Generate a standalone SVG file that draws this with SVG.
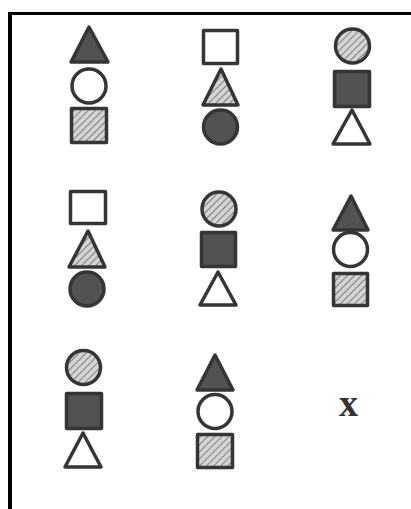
<svg xmlns="http://www.w3.org/2000/svg" width="411" height="509" viewBox="0 0 411 509">
<defs>
<pattern id="hatch" width="5" height="5" patternUnits="userSpaceOnUse" patternTransform="rotate(45)">
<rect width="5" height="5" fill="#d4d4d4"/>
<line x1="0" y1="0" x2="0" y2="5" stroke="#7f7f7f" stroke-width="2"/>
</pattern>
</defs>
<style>
.s{stroke:#353535;stroke-width:3.5;stroke-linejoin:round}
.dark{fill:#525252}
.hat{fill:url(#hatch)}
.white{fill:#ffffff}
.lbl{font-family:"Liberation Serif",serif;font-weight:bold;font-size:38px;fill:#333}
</style>
<rect width="411" height="509" fill="#ffffff"/>
<g id="frame">
<line x1="10" y1="12" x2="10" y2="509" stroke="#000" stroke-width="4"/>
<line x1="8" y1="13.5" x2="411" y2="13.5" stroke="#000" stroke-width="3"/>
</g>
<g id="connectors"></g>
<g id="cell-1-1">
<polygon class="s dark" points="89,27 108,62 71,62"/>
<circle class="s white" cx="89" cy="86" r="17"/>
<rect class="s hat" x="71.5" y="108.5" width="35" height="34"/>
</g>
<g id="cell-1-2">
<rect class="s white" x="203.5" y="30.5" width="34" height="33"/>
<polygon class="s hat" points="221,69 238,105 203,105"/>
<circle class="s dark" cx="220.5" cy="127" r="17"/>
</g>
<g id="cell-1-3">
<circle class="s hat" cx="352.5" cy="46" r="17"/>
<rect class="s dark" x="334.5" y="71.5" width="35" height="35"/>
<polygon class="s white" points="352,110 370,144 333,144"/>
</g>
<g id="cell-2-1">
<rect class="s white" x="70.5" y="191.5" width="35" height="32"/>
<polygon class="s hat" points="88,231 105,267 69,267"/>
<circle class="s dark" cx="87" cy="289" r="17"/>
</g>
<g id="cell-2-2">
<circle class="s hat" cx="219" cy="209" r="17"/>
<rect class="s dark" x="201.5" y="232.5" width="34" height="34"/>
<polygon class="s white" points="218,272 236,305 200,305"/>
</g>
<g id="cell-2-3">
<polygon class="s dark" points="351,196 368,230 333,230"/>
<circle class="s white" cx="350.5" cy="249.5" r="17"/>
<rect class="s hat" x="333.5" y="273.5" width="34" height="32"/>
</g>
<g id="cell-3-1">
<circle class="s hat" cx="83.5" cy="367.5" r="17"/>
<rect class="s dark" x="66.5" y="393.5" width="35" height="35"/>
<polygon class="s white" points="83,433 101,467 65,467"/>
</g>
<g id="cell-3-2">
<polygon class="s dark" points="215,355 233,390 197,390"/>
<circle class="s white" cx="215" cy="411.5" r="17"/>
<rect class="s hat" x="197.5" y="434.5" width="35" height="33"/>
</g>
<g id="cell-3-3">
<text class="lbl" x="348.5" y="416" text-anchor="middle">x</text>
</g>
</svg>
